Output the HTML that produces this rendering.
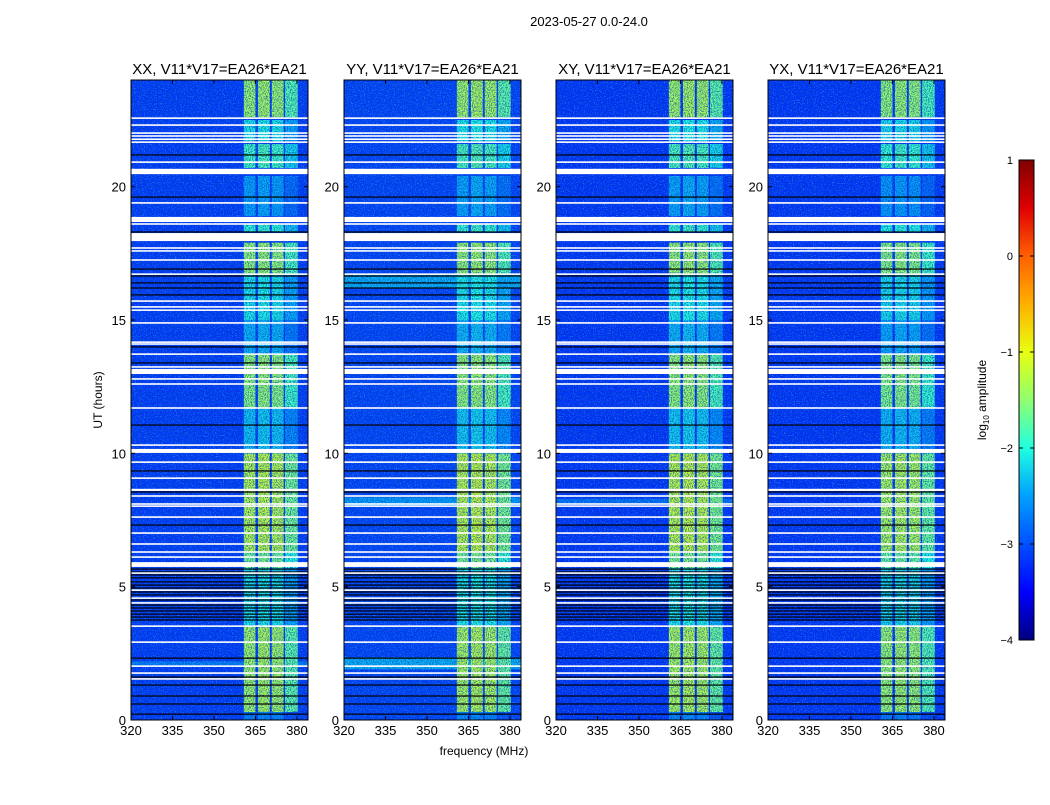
<!DOCTYPE html>
<html><head><meta charset="utf-8"><style>
body{margin:0;background:#fff;width:1050px;height:800px;overflow:hidden;font-family:"Liberation Sans",sans-serif}
svg text{font-family:"Liberation Sans","DejaVu Sans",sans-serif}
</style></head><body>
<svg id="fig" width="1050" height="800" xmlns="http://www.w3.org/2000/svg">
<defs>
<filter id="noiseDark" x="0" y="0" width="100%" height="100%" filterUnits="objectBoundingBox">
<feTurbulence type="fractalNoise" baseFrequency="0.95 0.8" numOctaves="2" seed="3"/>
<feColorMatrix type="matrix" values="0 0 0 0 0  0 0 0 0 0.05  0 0 0 0 0.45  -4 0 0 0 2.3"/>
</filter>
<filter id="noiseLight" x="0" y="0" width="100%" height="100%" filterUnits="objectBoundingBox">
<feTurbulence type="fractalNoise" baseFrequency="0.9 0.85" numOctaves="2" seed="11"/>
<feColorMatrix type="matrix" values="0 0 0 0 0.1  0 0 0 0 0.75  0 0 0 0 1  4 0 0 0 -2.2"/>
</filter>
</defs>
<text x="589" y="26" font-size="13" text-anchor="middle">2023-05-27 0.0-24.0</text>
<text x="484" y="755" font-size="12" text-anchor="middle">frequency (MHz)</text>
<text transform="translate(102,400) rotate(-90)" font-size="12" text-anchor="middle">UT (hours)</text>
<text transform="translate(986,400) rotate(-90)" font-size="12" text-anchor="middle">log<tspan font-size="8" dy="3">10</tspan><tspan dy="-3"> amplitude</tspan></text>
</svg>
<script>
// ---- data ----
const panelTitles = ["XX, V11*V17=EA26*EA21","YY, V11*V17=EA26*EA21","XY, V11*V17=EA26*EA21","YX, V11*V17=EA26*EA21"];
const xTicks = [320,335,350,365,380];
const yTicks = [0,5,10,15,20];
const cbTicks = [-4,-3,-2,-1,0,1];
const backgroundLevel = [-3.15,-3.1,-3.2,-3.2];
// RFI channels [fstart,fend] MHz and per-channel level offsets
const bandStart = [360.8,365.9,370.9,375.7];
const bandEnd = [365.0,370.2,375.2,380.3];
const bandOffset = [0,0.05,0,-0.35];
// time segments [start hr, end hr] and log amplitude of RFI channels
const segStart = [0,0.3,3.5,5.7,6.3,10.0,10.3,11.7,12.6,13.7,15.0,16.7,18.3,18.9,20.7,21.7,22.6];
const segEnd = [0.3,3.5,5.7,6.3,10.0,10.3,11.7,12.6,13.7,15.0,16.7,17.9,18.6,20.4,21.6,22.5,24.0];
const segLevel = [-2.7,-1.35,-2.1,-1.6,-1.25,-2.3,-2.3,-1.5,-1.45,-2.4,-2.1,-1.45,-1.95,-2.5,-1.85,-2.1,-1.4];
const panelGain = [0,0.05,0.05,-0.05];
// flagged (white) rows: centre hour and width hours
const whiteHr = [22.57,22.31,22.01,21.90,21.78,21.67,20.92,20.57,19.39,18.77,18.60,18.11,17.70,17.59,17.25,16.72,15.71,15.49,15.37,14.89,14.17,14.10,13.72,13.24,13.07,12.79,12.60,11.70,10.31,10.09,9.67,9.07,8.63,8.40,8.10,8.02,7.61,7.01,6.60,6.30,6.11,5.83,5.51,4.87,4.57,4.39,3.52,2.92,2.02,1.76,1.54];
const whiteW = [0.04,0.04,0.04,0.04,0.04,0.04,0.04,0.2,0.04,0.19,0.04,0.3,0.04,0.04,0.04,0.04,0.04,0.04,0.04,0.04,0.04,0.04,0.04,0.04,0.19,0.04,0.04,0.04,0.04,0.15,0.04,0.04,0.08,0.04,0.04,0.04,0.04,0.04,0.04,0.04,0.04,0.18,0.04,0.04,0.04,0.04,0.04,0.04,0.04,0.04,0.04];
// zero-amplitude (black) rows
const blackHr = [21.19,19.61,18.30,16.91,16.65,16.39,16.20,15.94,13.99,13.39,11.06,9.34,8.55,7.31,5.66,5.55,5.44,5.33,5.18,5.06,4.95,4.80,4.69,4.50,4.31,4.20,4.09,3.97,3.86,3.75,2.32,1.61,1.31,0.90,0.60,0.22];
// brighter background rows per panel
const bgPanel = [1,1,1,0,2];
const bgStart = [1.9,8.05,16.2,2.0,8.1];
const bgEnd = [2.35,8.35,16.7,2.2,8.3];
const bgLevel = [-2.4,-2.5,-2.4,-2.7,-2.8];
// colormap stops (value -> colour)
const cmV = [-4,-3.5,-3,-2.5,-2,-1.5,-1,-0.5,0,0.5,1];
const cmC = ["#000080","#0000ff","#0050ff","#00a0ff","#20ffe0","#90ff70","#e8ff10","#ffb000","#ff6000","#e00000","#800000"];
</script>
<script>
const svg=document.getElementById('fig');
const NS="http://www.w3.org/2000/svg";
function mk(tag,attrs,parent){const e=document.createElementNS(NS,tag);for(const k in attrs)e.setAttribute(k,attrs[k]);(parent||svg).appendChild(e);return e;}
function hex(c){return [parseInt(c.slice(1,3),16),parseInt(c.slice(3,5),16),parseInt(c.slice(5,7),16)];}
function cmap(v){v=Math.max(-4,Math.min(1,v));for(let i=0;i<cmV.length-1;i++){if(v<=cmV[i+1]){const t=(v-cmV[i])/(cmV[i+1]-cmV[i]);const a=hex(cmC[i]),b=hex(cmC[i+1]);return 'rgb('+a.map((x,j)=>Math.round(x+(b[j]-x)*t)).join(',')+')';}}return cmC[cmC.length-1];}
const px0=[131,344,556,768], PW=177, PY0=80, PY1=720;
const FMIN=320,FMAX=384,HMIN=0,HMAX=24;
for(let p=0;p<4;p++){
  const g=mk('g',{});
  
  
  const X=f=>px0[p]+(f-FMIN)/(FMAX-FMIN)*PW;
  const Y=h=>PY1-(h-HMIN)/(HMAX-HMIN)*(PY1-PY0);
  const bg=mk('rect',{x:px0[p],y:PY0,width:PW,height:PY1-PY0,fill:cmap(backgroundLevel[p])},g);
  
  
  for(let i=0;i<bgPanel.length;i++){if(bgPanel[i]!==p)continue;
    const r=mk('rect',{x:px0[p],y:Y(bgEnd[i]),width:PW,height:Y(bgStart[i])-Y(bgEnd[i]),fill:cmap(bgLevel[i])},g);
    
    }
  for(let s=0;s<segStart.length;s++){for(let c=0;c<bandStart.length;c++){
    const r=mk('rect',{x:X(bandStart[c]),y:Y(segEnd[s]),width:X(bandEnd[c])-X(bandStart[c]),height:Y(segStart[s])-Y(segEnd[s]),fill:cmap(segLevel[s]+bandOffset[c]+panelGain[p])},g);
    
    }}
  const nz=mk('rect',{x:px0[p],y:PY0,width:PW,height:PY1-PY0,fill:'#000',filter:'url(#noiseDark)',opacity:0.7},g);
  
  
  const nl=mk('rect',{x:px0[p],y:PY0,width:PW,height:PY1-PY0,fill:'#000',filter:'url(#noiseLight)',opacity:0.5},g);
  
  
  for(let i=0;i<blackHr.length;i++){
    const r=mk('rect',{x:px0[p],y:Y(blackHr[i])-0.6,width:PW,height:1.2,fill:'#000'},g);
    
    }
  for(let i=0;i<whiteHr.length;i++){
    const h=Math.max(1.6,whiteW[i]*(PY1-PY0)/24);
    const r=mk('rect',{x:px0[p],y:Y(whiteHr[i])-h/2,width:PW,height:h,fill:'#fff'},g);
    
    }
  const fr=mk('rect',{x:px0[p],y:PY0,width:PW,height:PY1-PY0,fill:'none',stroke:'#000','stroke-width':1},g);
  
  
  const t=mk('text',{x:px0[p]+PW/2,y:74,'font-size':15,'text-anchor':'middle'},g);t.textContent=panelTitles[p];
  
  
  xTicks.forEach(v=>{const x=X(v);
    mk('line',{x1:x,x2:x,y1:PY1,y2:PY1-4,stroke:'#000'},g);mk('line',{x1:x,x2:x,y1:PY0,y2:PY0+4,stroke:'#000'},g);
    const l=mk('text',{x:x,y:PY1+15,'font-size':13,'text-anchor':'middle'},g);l.textContent=v;
    
    });
  yTicks.forEach(v=>{const y=Y(v);
    mk('line',{x1:px0[p],x2:px0[p]+4,y1:y,y2:y,stroke:'#000'},g);mk('line',{x1:px0[p]+PW,x2:px0[p]+PW-4,y1:y,y2:y,stroke:'#000'},g);
    const l=mk('text',{x:px0[p]-5,y:y+5,'font-size':13,'text-anchor':'end'},g);l.textContent=v;
    
    });
}
// colorbar
const CX=1019,CW=15,CY0=160,CY1=640;
const cb=mk('g',{});


const gr=mk('linearGradient',{id:'cbg',x1:0,y1:1,x2:0,y2:0},svg.querySelector('defs'));
cmV.forEach((v,i)=>mk('stop',{offset:(v+4)/5,'stop-color':cmC[i]},gr));
mk('rect',{x:CX,y:CY0,width:CW,height:CY1-CY0,fill:'url(#cbg)',stroke:'#000'},cb);
cbTicks.forEach(v=>{const y=CY1-(v+4)/5*(CY1-CY0);
  mk('line',{x1:CX,x2:CX+4,y1:y,y2:y,stroke:'#000'},cb);mk('line',{x1:CX+CW,x2:CX+CW-4,y1:y,y2:y,stroke:'#000'},cb);
  const l=mk('text',{x:CX-6,y:y+4,'font-size':11,'text-anchor':'end'},cb);l.textContent=(v<0?'\u2212'+(-v):v);
  
  });
</script>
</body></html>
